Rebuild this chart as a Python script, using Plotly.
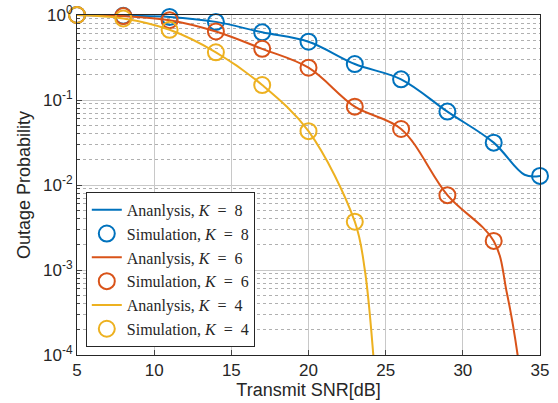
import plotly.graph_objects as go

snr_sim = [5, 8, 11, 14, 17, 20, 23, 26, 29, 32, 35]
sim_k8 = [1.0, 0.98, 0.95, 0.83, 0.625, 0.485, 0.265, 0.175, 0.073, 0.0315, 0.0128]
snr_sim_k6 = [5, 8, 11, 14, 17, 20, 23, 26, 29, 32]
sim_k6 = [1.0, 0.97, 0.87, 0.64, 0.40, 0.24, 0.0835, 0.0456, 0.0076, 0.0022]
snr_sim_k4 = [5, 8, 11, 14, 17, 20, 23]
sim_k4 = [1.0, 0.91, 0.67, 0.364, 0.15, 0.043, 0.0037]

snr_ana_k8 = [5, 8, 11, 14, 17, 20, 23, 26, 29, 32, 34, 35]
ana_k8 = [1.0, 0.98, 0.95, 0.83, 0.625, 0.485, 0.265, 0.175, 0.073, 0.0315, 0.0132, 0.0128]
snr_ana_k6 = [5, 8, 11, 14, 17, 20, 23, 26, 29, 32, 32.85, 33.55, 33.8]
ana_k6 = [1.0, 0.97, 0.87, 0.64, 0.40, 0.24, 0.0835, 0.0456, 0.0076, 0.0022, 0.00054, 0.0001, 0.00004]
snr_ana_k4 = [5, 8, 11, 14, 17, 20, 23, 23.65, 24.2, 24.35]
ana_k4 = [1.0, 0.91, 0.67, 0.364, 0.15, 0.043, 0.0037, 0.001, 0.0001, 0.00004]

xticks = [5, 10, 15, 20, 25, 30, 35]
yticks = [1e-4, 1e-3, 1e-2, 1e-1, 1]
ytext = ["10<sup>-4</sup>", "10<sup>-3</sup>", "10<sup>-2</sup>", "10<sup>-1</sup>", "10<sup>0</sup>"]

colors = {"8": "#0072BD", "6": "#D95319", "4": "#EDB120"}

fig = go.Figure()
series = [
    ("8", snr_ana_k8, ana_k8, snr_sim, sim_k8),
    ("6", snr_ana_k6, ana_k6, snr_sim_k6, sim_k6),
    ("4", snr_ana_k4, ana_k4, snr_sim_k4, sim_k4),
]
sp = "\u2005"
for k, xa, ya, xs, ys in series:
    c = colors[k]
    fig.add_trace(go.Scatter(x=xa, y=ya, mode="lines",
                             line=dict(color=c, width=2, shape="spline", smoothing=1.0),
                             name=f"Ananlysis, <i>K</i> {sp}={sp} {k}"))
    fig.add_trace(go.Scatter(x=xs, y=ys, mode="markers", cliponaxis=False,
                             marker=dict(symbol="circle-open", size=16, color=c,
                                         line=dict(color=c, width=2)),
                             name=f"Simulation, <i>K</i> {sp}={sp} {k}"))

fig.update_layout(
    width=558, height=403,
    margin=dict(l=77, r=18, t=15, b=48, autoexpand=False),
    paper_bgcolor="white", plot_bgcolor="white",
    font=dict(family="Liberation Sans, Arial, sans-serif", size=17, color="#262626"),
    legend=dict(x=0.019, y=0.024, xanchor="left", yanchor="bottom",
                bgcolor="white", bordercolor="#262626", borderwidth=1,
                font=dict(family="Liberation Serif, Times New Roman, serif", size=16, color="#262626"),
                itemwidth=30, tracegroupgap=0),
)
fig.update_xaxes(
    range=[5, 35], tickvals=xticks, ticks="inside", ticklen=5,
    showgrid=True, gridcolor="#c8c8c8", gridwidth=1,
    showline=True, linecolor="#262626", linewidth=1, mirror=True,
    zeroline=False, automargin=False, ticklabeloverflow="allow",
    title=dict(text="Transmit SNR[dB]", font=dict(size=18), standoff=0),
    tickfont=dict(size=17),
)
fig.update_yaxes(
    type="log", range=[-4, 0], tickvals=yticks, ticktext=ytext,
    ticks="inside", ticklen=5,
    showgrid=True, gridcolor="#c8c8c8", gridwidth=1,
    showline=True, linecolor="#262626", linewidth=1, mirror=True,
    zeroline=False, automargin=False, ticklabeloverflow="allow",
    minor=dict(showgrid=True, dtick="D1", griddash="dot", gridcolor="#b0b0b0",
               ticks="inside", ticklen=3),
    title=dict(text="Outage Probability", font=dict(size=18), standoff=7),
    tickfont=dict(size=17),
)

fig.write_html("out.html", config={"displayModeBar": False},
               post_script="document.body.style.margin='0';document.body.style.padding='0';")
